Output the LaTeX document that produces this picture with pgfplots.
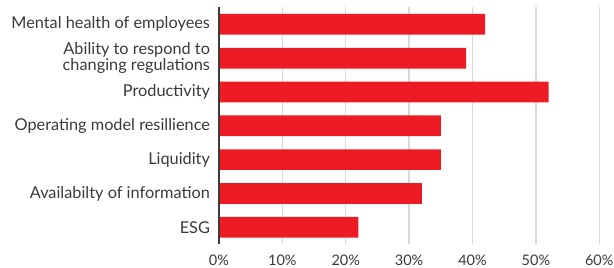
\documentclass[border=0pt]{standalone}
\usepackage{pgfplots}
\pgfplotsset{compat=1.18}
\usepackage{fontspec}
\setmainfont{Lato}
\definecolor{barred}{HTML}{ED1C24}
\definecolor{gridgray}{HTML}{D9D9D9}
\definecolor{txt}{HTML}{3A3A3A}
\begin{document}
\begin{tikzpicture}
\path[use as bounding box] (-219pt,-23.8pt) rectangle (395pt,244.2pt);
\begin{axis}[
  at={(0,0)}, anchor=south west,
  scale only axis,
  width=380.3pt, height=236.8pt,
  xbar, bar width=20.7pt,
  xmin=0, xmax=60,
  ymin=-0.5, ymax=6.5,
  y dir=reverse,
  ytick={0,...,6},
  yticklabels={Mental health of employees,{Ability to respond to\\changing regulations},Productivity,Operating model resillience,Liquidity,Availabilty of information,ESG},
  yticklabel style={align=right, font=\fontsize{16.3}{16.5}\selectfont, text=txt, xshift=-5.5pt},
  xtick={0,10,...,60},
  xticklabel={\pgfmathprintnumber{\tick}\%},
  xticklabel style={font=\fontsize{14.5}{15.5}\selectfont, text=txt, yshift=-7pt},
  /pgf/number format/assume math mode=true,
  major tick length=0pt,
  xmajorgrids, grid style={gridgray, line width=1.3pt},
  axis line style={draw=none},
  clip=false,
]
\addplot[fill=barred, draw=none] coordinates {(42,0) (39,1) (52,2) (35,3) (35,4) (32,5) (22,6)};
\draw[txt, line width=1.3pt] (axis cs:0,-0.5) -- (axis cs:0,6.5);
\end{axis}
\end{tikzpicture}
\end{document}
